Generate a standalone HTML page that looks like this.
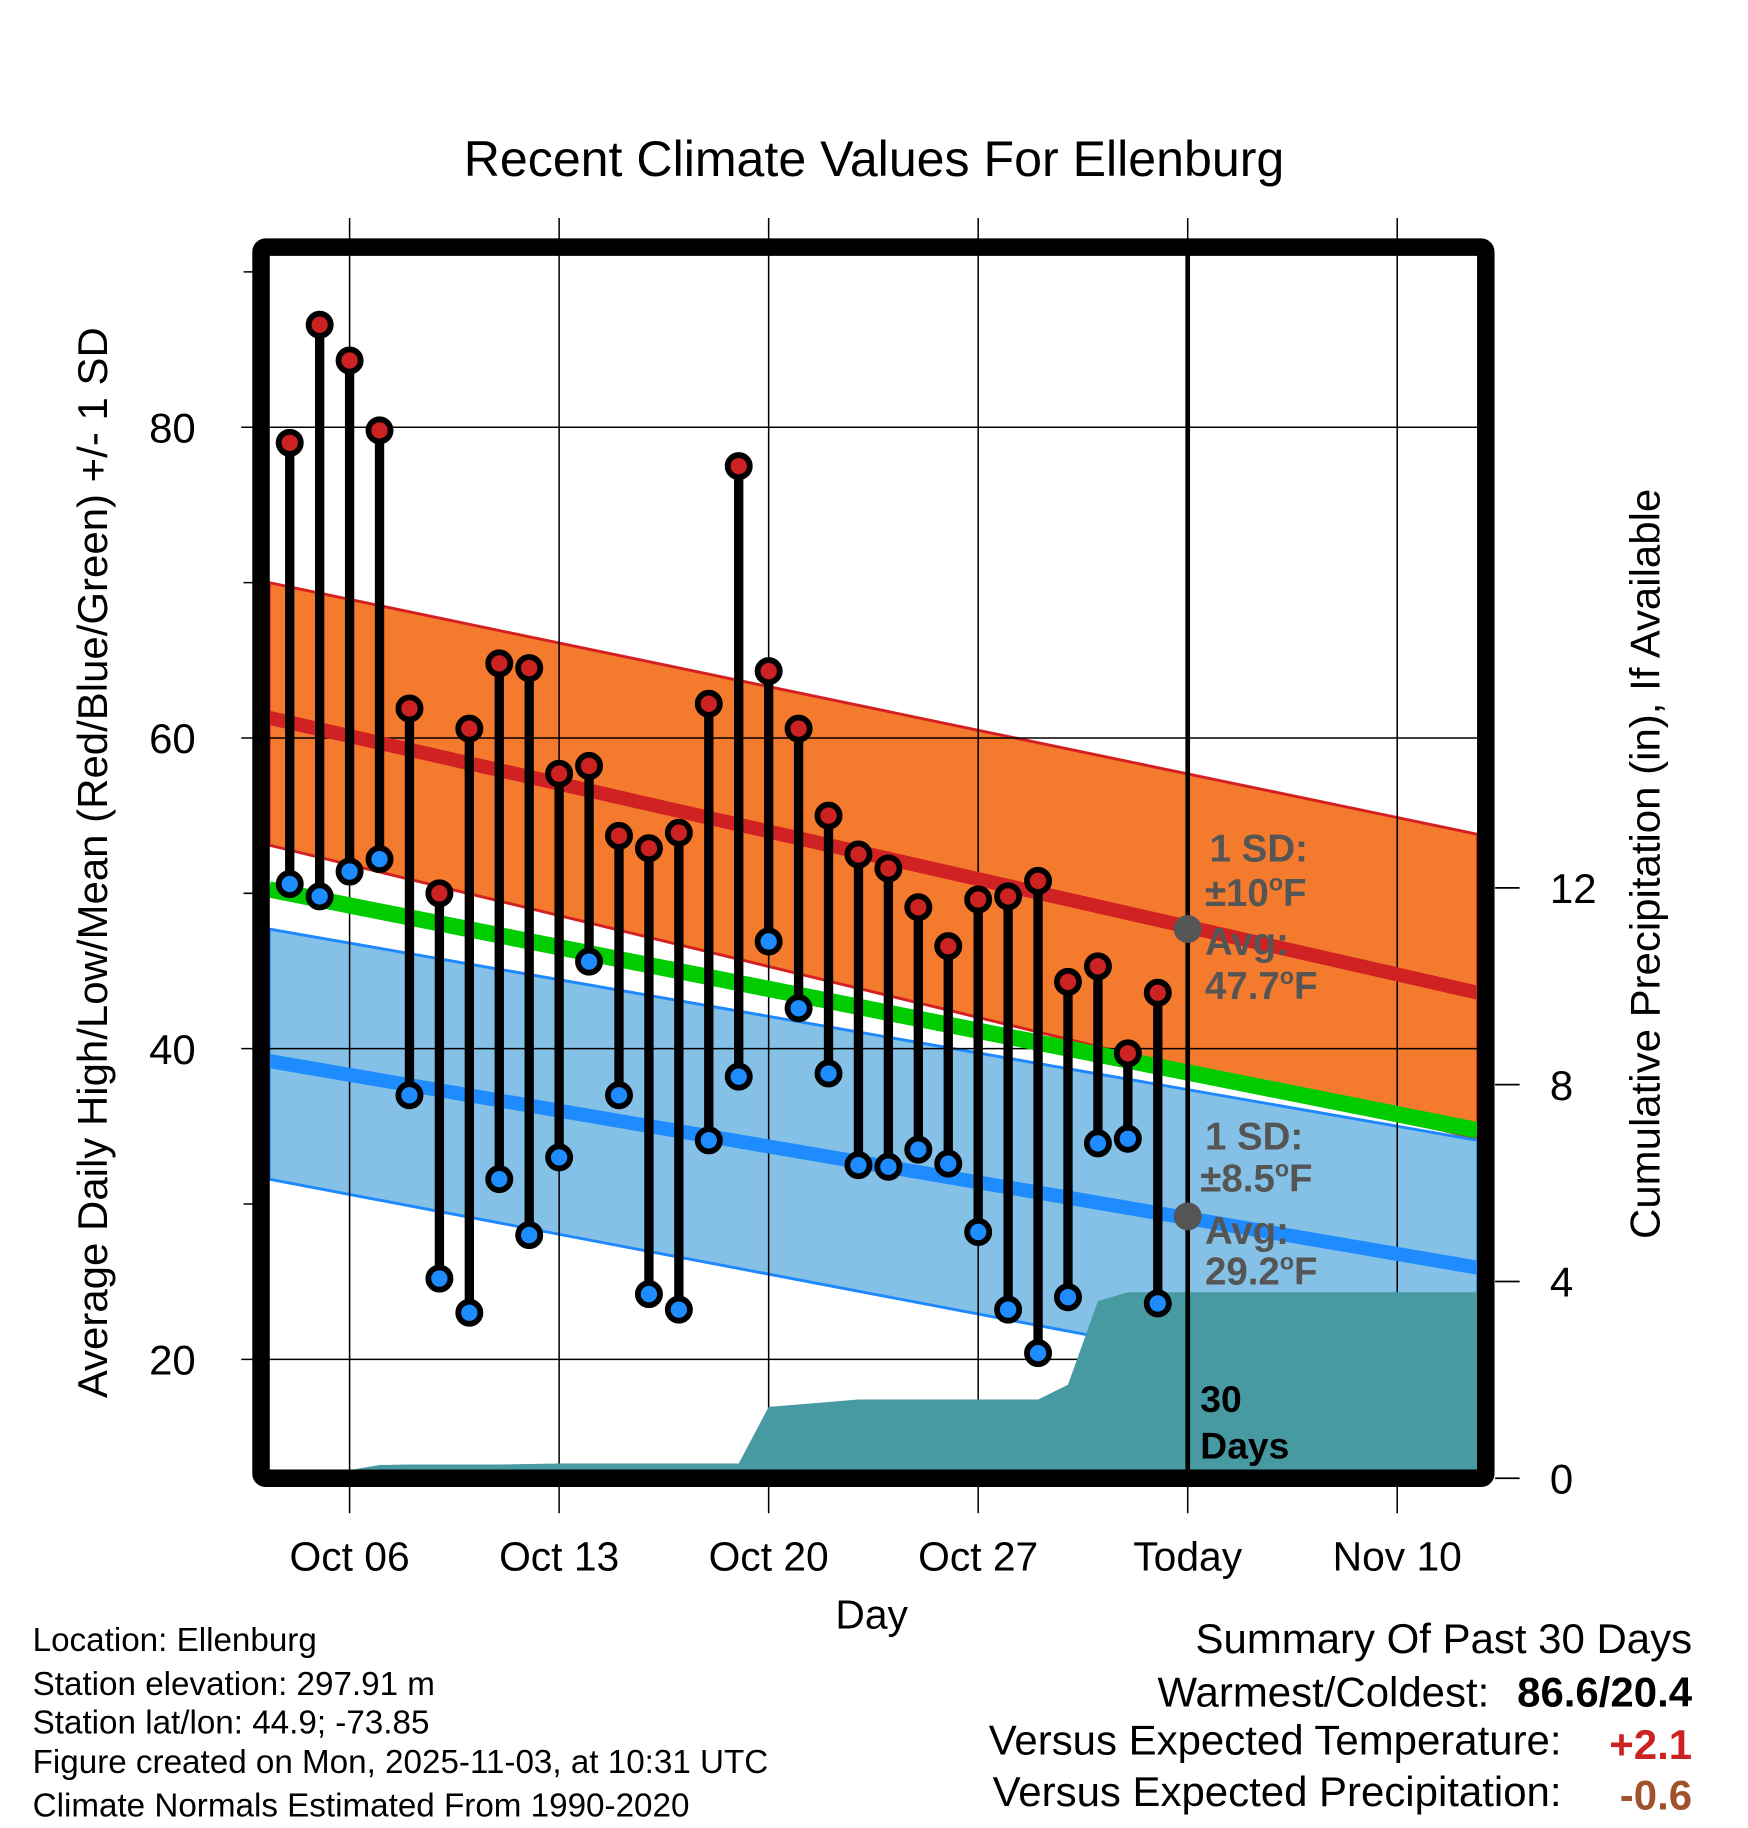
<!DOCTYPE html>
<html><head><meta charset="utf-8"><style>
html,body{margin:0;padding:0;background:#fff}
svg{display:block;font-family:"Liberation Sans",sans-serif}
</style></head><body>
<svg id="chart" width="1748" height="1828" viewBox="0 0 1500 1568" preserveAspectRatio="none" xmlns="http://www.w3.org/2000/svg">
<g id="layer-bands"></g>
<g id="layer-grid"></g>
<g id="layer-precip"></g>
<g id="layer-lines"></g>
<g id="layer-data"></g>
<g id="layer-frame"></g>
<text x="750" y="151" font-size="43" text-anchor="middle">Recent Climate Values For Ellenburg</text>
<text transform="translate(92,740) rotate(-90)" font-size="36" text-anchor="middle">Average Daily High/Low/Mean (Red/Blue/Green) +/- 1 SD</text>
<text transform="translate(1424,741) rotate(-90)" font-size="36" text-anchor="middle">Cumulative Precipitation (in), If Available</text>
<text x="748" y="1397" font-size="35" text-anchor="middle">Day</text>
<g font-size="33" font-weight="bold" fill="#555">
<text x="1038" y="739">1 SD:</text>
<text x="1034" y="777">±10<tspan font-size="20" dy="-13">o</tspan><tspan dy="13">F</tspan></text>
<text x="1034" y="819">Avg:</text>
<text x="1034" y="857">47.7<tspan font-size="20" dy="-13">o</tspan><tspan dy="13">F</tspan></text>
</g>
<g font-size="33" font-weight="bold" fill="#555">
<text x="1034" y="986">1 SD:</text>
<text x="1030" y="1022">±8.5<tspan font-size="20" dy="-13">o</tspan><tspan dy="13">F</tspan></text>
<text x="1034" y="1067">Avg:</text>
<text x="1034" y="1102">29.2<tspan font-size="20" dy="-13">o</tspan><tspan dy="13">F</tspan></text>
</g>
<g font-size="32" font-weight="bold" fill="#000">
<text x="1030" y="1211">30</text>
<text x="1030" y="1251">Days</text>
</g>
<g font-size="28.5" fill="#000">
<text x="28" y="1416">Location: Ellenburg</text>
<text x="28" y="1454">Station elevation: 297.91 m</text>
<text x="28" y="1487">Station lat/lon: 44.9; -73.85</text>
<text x="28" y="1521">Figure created on Mon, 2025-11-03, at 10:31 UTC</text>
<text x="28" y="1558">Climate Normals Estimated From 1990-2020</text>
</g>
<g font-size="36" fill="#000">
<text x="1452" y="1418" text-anchor="end">Summary Of Past 30 Days</text>
<text x="1278" y="1464" text-anchor="end">Warmest/Coldest:</text>
<text x="1452" y="1464" text-anchor="end" font-weight="bold">86.6/20.4</text>
<text x="1340" y="1505" text-anchor="end">Versus Expected Temperature:</text>
<text x="1452" y="1509" text-anchor="end" font-weight="bold" fill="#cc2222">+2.1</text>
<text x="1340" y="1549" text-anchor="end">Versus Expected Precipitation:</text>
<text x="1452" y="1552" text-anchor="end" font-weight="bold" fill="#a0522d">-0.6</text>
</g>
</svg>
<script>
// day offsets relative to Oct 06 (Oct 04 = -2)
const dayOffsets = [-2,-1,0,1,2,3,4,5,6,7,8,9,10,11,12,13,14,15,16,17,18,19,20,21,22,23,24,25,26,27];
const highs = [79,86.6,84.3,79.8,61.9,50,60.6,64.8,64.5,57.7,58.2,53.7,52.9,53.9,62.2,77.5,64.3,60.6,55,52.5,51.6,49.1,46.6,49.6,49.8,50.8,44.3,45.3,39.7,43.6];
const lows = [50.6,49.8,51.4,52.2,37,25.2,23,31.6,28,33,45.6,37,24.2,23.2,34.1,38.2,46.9,42.6,38.4,32.5,32.4,33.5,32.6,28.2,23.2,20.4,24,33.9,34.2,23.6];
const precipCum = [0,0,0,0.27,0.28,0.28,0.28,0.28,0.29,0.3,0.3,0.3,0.3,0.3,0.3,0.3,1.45,1.5,1.55,1.6,1.6,1.6,1.6,1.6,1.6,1.6,1.9,3.6,3.78,3.78];
// normals at left edge / right edge of plot
const normalHigh = [61.3,43.6];
const highUpper = [70,53.8];
const highLower = [53.1,34.2];
const normalLow = [39.2,25.9];
const lowUpper = [47.7,34.1];
const lowLower = [31.6,16.8];
const yTicks = [20,40,60,80];
const yMinor = [30,50,70,90];
const y2Ticks = [0,4,8,12];
const xTickOffsets = [0,7,14,21,28,35];
const xTickLabels = ['Oct 06','Oct 13','Oct 20','Oct 27','Today','Nov 10'];
const todayOffset = [28];
const avgHighToday = [47.7], avgLowToday = [29.2];

const NS='http://www.w3.org/2000/svg';
const L=231,R=1268,T=219,B=1261;
const x = d => 300 + d*179.8/7;
const y = v => 1166 - (v-20)*13.325;
const y2 = p => 1268 - p*42.2;
function mk(tag,parent,attrs){const e=document.createElementNS(NS,tag);for(const k in attrs)e.setAttribute(k,attrs[k]);document.getElementById(parent).appendChild(e);return e;}

let e=mk('polygon','layer-bands',{points:`${L},${y(highUpper[0])} ${R},${y(highUpper[1])} ${R},${y(highLower[1])} ${L},${y(highLower[0])}`,fill:'#f47a2e',stroke:'#d42020','stroke-width':2.5});


e=mk('polygon','layer-bands',{points:`${L},${y(lowUpper[0])} ${R},${y(lowUpper[1])} ${R},${y(lowLower[1])} ${L},${y(lowLower[0])}`,fill:'#85c1e6',stroke:'#1e88ff','stroke-width':2.5});



yTicks.forEach(v=>{
  e=mk('line','layer-grid',{x1:207,x2:R,y1:y(v),y2:y(v),stroke:'#000','stroke-width':1.3});
  
  
  e=mk('text','layer-grid',{x:168,y:y(v)+13,'font-size':36,'text-anchor':'end'});e.textContent=v;
  
  
});
yMinor.forEach(v=>{
  e=mk('line','layer-grid',{x1:209,x2:L,y1:y(v),y2:y(v),stroke:'#000','stroke-width':1.3});
  
  
});
xTickOffsets.forEach((d,i)=>{
  e=mk('line','layer-grid',{x1:x(d),x2:x(d),y1:187,y2:1298,stroke:'#000','stroke-width':1.3});
  
  
  e=mk('text','layer-grid',{x:x(d),y:1347,'font-size':35,'text-anchor':'middle'});e.textContent=xTickLabels[i];
  
  
});
y2Ticks.forEach(p=>{
  e=mk('line','layer-grid',{x1:1283,x2:1304,y1:y2(p),y2:y2(p),stroke:'#000','stroke-width':1.5});
  
  
  e=mk('text','layer-grid',{x:1330,y:y2(p)+13,'font-size':36});e.textContent=p;
  
  
});

let pts=`${L},${B} ${L},${Math.min(B,y2(precipCum[0]))} `;
dayOffsets.forEach((d,i)=>{pts+=`${x(d)},${Math.min(B,y2(precipCum[i]))} `;});
pts+=`${R},${y2(precipCum[precipCum.length-1])} ${R},${B}`;
e=mk('polygon','layer-precip',{points:pts,fill:'#4799a2'});



e=mk('line','layer-lines',{x1:L,x2:R,y1:y(normalHigh[0]),y2:y(normalHigh[1]),stroke:'#d02222','stroke-width':12});


e=mk('line','layer-lines',{x1:L,x2:R,y1:y(normalLow[0]),y2:y(normalLow[1]),stroke:'#1e8cff','stroke-width':12});


e=mk('line','layer-lines',{x1:L,x2:R,y1:y((normalHigh[0]+normalLow[0])/2),y2:y((normalHigh[1]+normalLow[1])/2),stroke:'#00cc00','stroke-width':14});


e=mk('line','layer-lines',{x1:x(todayOffset[0]),x2:x(todayOffset[0]),y1:T,y2:B,stroke:'#000','stroke-width':4});


e=mk('circle','layer-lines',{cx:x(todayOffset[0]),cy:y(avgHighToday[0]),r:12,fill:'#555'});


e=mk('circle','layer-lines',{cx:x(todayOffset[0]),cy:y(avgLowToday[0]),r:12,fill:'#555'});



dayOffsets.forEach((d,i)=>{
  e=mk('line','layer-data',{x1:x(d),x2:x(d),y1:y(highs[i]),y2:y(lows[i]),stroke:'#000','stroke-width':8});
  
  
  e=mk('circle','layer-data',{cx:x(d),cy:y(highs[i]),r:9.5,fill:'#cc2222',stroke:'#000','stroke-width':5});
  
  
  e=mk('circle','layer-data',{cx:x(d),cy:y(lows[i]),r:9.5,fill:'#1e8cff',stroke:'#000','stroke-width':5});
  
  
});

e=mk('rect','layer-frame',{x:224,y:212,width:1051,height:1056,fill:'none',stroke:'#000','stroke-width':15,rx:4});


</script>
</body></html>
